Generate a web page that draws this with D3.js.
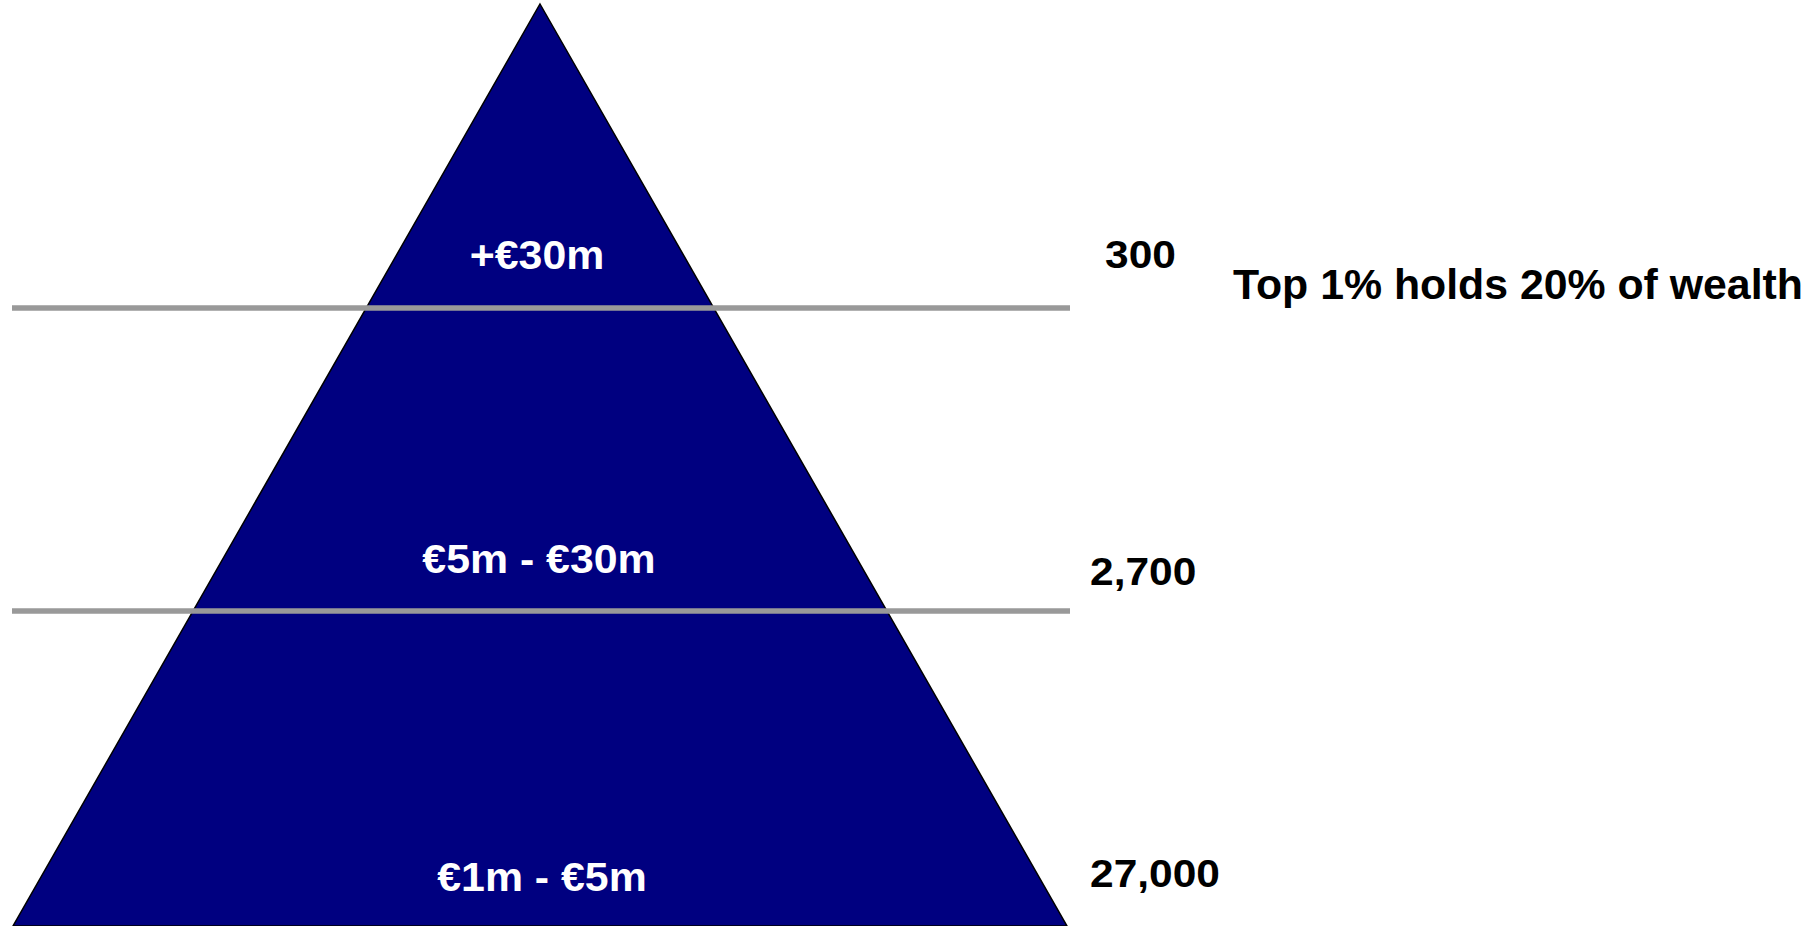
<!DOCTYPE html>
<html>
<head>
<meta charset="utf-8">
<script src="https://cdn.jsdelivr.net/npm/d3@7"></script>
<style>
html,body{margin:0;padding:0;background:#fff;overflow:hidden;}
svg{display:block;}
text{font-family:"Liberation Sans",Arial,sans-serif;font-weight:bold;}
</style>
</head>
<body>
<svg id="chart" width="1818" height="926"></svg>
<script>
// ---- data ----
const tiers = ["+€30m", "€5m - €30m", "€1m - €5m"];
const counts = ["300", "2,700", "27,000"];
const note = "Top 1% holds 20% of wealth";

// ---- layout ----
const W = 1818, H = 926;
const svg = d3.select("#chart");
const apexX = 540, apexY = 4;
const halfSlope = 527 / 922; // half-width per pixel of height

// tier boundary scale: index -> y
const y = d3.scaleLinear().domain([0, tiers.length]).range([5, 914]);

// triangle from apex to bottom of page
const baseHalf = (H - apexY) * halfSlope;
svg.append("path")
  .attr("d", d3.line()([[apexX, apexY], [apexX + baseHalf, H], [apexX - baseHalf, H]]) + "Z")
  .attr("fill", "#000080")
  .attr("stroke", "#000")
  .attr("stroke-width", 1.5);

// separator lines between tiers
svg.selectAll("line.sep")
  .data(d3.range(1, tiers.length))
  .join("line")
  .attr("class", "sep")
  .attr("x1", 12).attr("x2", 1070)
  .attr("y1", d => y(d)).attr("y2", d => y(d))
  .attr("stroke", "#999999")
  .attr("stroke-width", 5.5);

// tier labels (inside pyramid)
const labelX = [537, 539, 542];
const labelY = [269, 573, 891];
svg.selectAll("text.tier")
  .data(tiers)
  .join("text")
  .attr("class", "tier")
  .attr("transform", (d, i) => `translate(${labelX[i]},${labelY[i]}) scale(1.045,1)`)
  .attr("text-anchor", "middle")
  .attr("fill", "#fff")
  .attr("font-size", 41)
  .text(d => d);

// counts
const countX = [1105, 1090, 1090];
const countY = [268, 585, 887];
svg.selectAll("text.count")
  .data(counts)
  .join("text")
  .attr("class", "count")
  .attr("transform", (d, i) => `translate(${countX[i]},${countY[i]}) scale(1.09,1)`)
  .attr("fill", "#000")
  .attr("font-size", 39)
  .text(d => d);

// note
svg.append("text")
  .attr("transform", "translate(1233,299) scale(1.012,1)")
  .attr("fill", "#000")
  .attr("font-size", 42.3)
  .text(note);
</script>
</body>
</html>
